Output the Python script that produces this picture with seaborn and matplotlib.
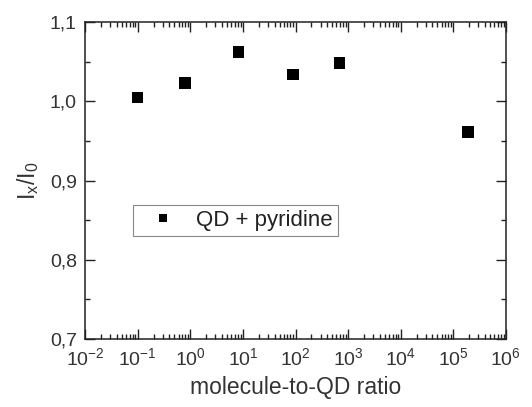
import numpy as np
import pandas as pd
import matplotlib
matplotlib.use("Agg")
import matplotlib.pyplot as plt
import matplotlib.ticker as mticker
import seaborn as sns

# values
ratio = [0.1, 0.8, 8.3, 90, 680, 1.9e5]
intensity = [1.005, 1.023, 1.062, 1.034, 1.048, 0.961]
series_name = "QD + pyridine"

df = pd.DataFrame({"ratio": ratio, "intensity": intensity, "sample": series_name})

sns.set_style("ticks")
plt.rcParams['font.family'] = ['Liberation Sans', 'DejaVu Sans']
plt.rcParams['mathtext.default'] = 'regular'

fig = plt.figure(figsize=(5.32, 4.07), dpi=100)
ax = fig.add_axes([0.16, 0.167, 0.791, 0.779])

sns.scatterplot(data=df, x="ratio", y="intensity", hue="sample",
                palette=["black"], marker="s", s=68, edgecolor="black",
                linewidth=0, ax=ax)

ax.set_xscale("log")
ax.set_xlim(1e-2, 1e6)
ax.set_ylim(0.7, 1.1)

ax.xaxis.set_major_locator(mticker.LogLocator(base=10, numticks=20))
ax.xaxis.set_minor_locator(mticker.LogLocator(base=10, subs=np.arange(2, 10), numticks=20))
ax.xaxis.set_minor_formatter(mticker.NullFormatter())
ax.yaxis.set_major_locator(mticker.MultipleLocator(0.1))
ax.yaxis.set_minor_locator(mticker.MultipleLocator(0.05))
ax.yaxis.set_major_formatter(mticker.FuncFormatter(lambda v, p: f"{v:.1f}".replace(".", ",")))

ax.tick_params(which="both", direction="in", top=True, right=True, width=1.0,
               colors="#222222", labelcolor="#333333")
ax.tick_params(which="major", length=7, labelsize=14, pad=6)
ax.tick_params(which="minor", length=3.5)
for sp in ax.spines.values():
    sp.set_linewidth(1.1)
    sp.set_color("#222222")

ax.set_xlabel("molecule-to-QD ratio", fontsize=16.5, color="#333333", labelpad=5)
ax.set_ylabel("$I_x/I_0$", fontsize=16.5, color="#333333", labelpad=6)

leg = ax.legend(loc="lower left", bbox_to_anchor=(0.113, 0.325), borderaxespad=0,
                fancybox=False, edgecolor="#888888", framealpha=1, fontsize=16,
                markerscale=0.65, handlelength=2.3, handletextpad=0.35,
                borderpad=0.22, labelcolor="#222222")
leg.get_frame().set_linewidth(0.8)

fig.savefig("out.png", dpi=100)
